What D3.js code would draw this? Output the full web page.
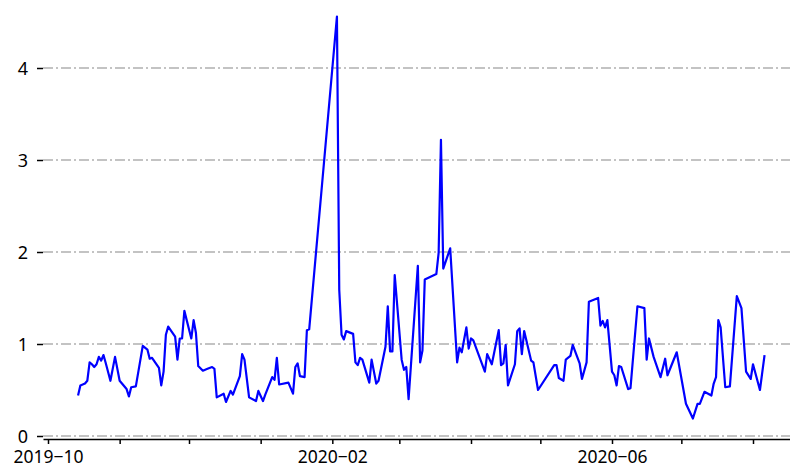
<!DOCTYPE html>
<html>
<head>
<meta charset="utf-8">
<script src="https://cdn.jsdelivr.net/npm/d3@7"></script>
<style>
	body { margin: 0; background: #fff; }
	text { font-family: "Noto Sans", sans-serif; }
</style>
</head>
<body>
<div id="vis"></div>
<script>
const dates = [
	"2019-10-14", "2019-10-15", "2019-10-17", "2019-10-18", "2019-10-19", "2019-10-20", "2019-10-21", "2019-10-22",
	"2019-10-23", "2019-10-24", "2019-10-25", "2019-10-26", "2019-10-28", "2019-10-30", "2019-11-01", "2019-11-03",
	"2019-11-04", "2019-11-05", "2019-11-06", "2019-11-08", "2019-11-11", "2019-11-13", "2019-11-14", "2019-11-15",
	"2019-11-18", "2019-11-19", "2019-11-20", "2019-11-21", "2019-11-22", "2019-11-25", "2019-11-26", "2019-11-27",
	"2019-11-28", "2019-11-29", "2019-12-02", "2019-12-03", "2019-12-04", "2019-12-05", "2019-12-07", "2019-12-09",
	"2019-12-11", "2019-12-12", "2019-12-13", "2019-12-16", "2019-12-17", "2019-12-19", "2019-12-20", "2019-12-23",
	"2019-12-24", "2019-12-25", "2019-12-27", "2019-12-30", "2019-12-31", "2020-01-02", "2020-01-03", "2020-01-06",
	"2020-01-07", "2020-01-08", "2020-01-09", "2020-01-13", "2020-01-15", "2020-01-16", "2020-01-17", "2020-01-18",
	"2020-01-20", "2020-01-21", "2020-01-22", "2020-02-03", "2020-02-04", "2020-02-05", "2020-02-06", "2020-02-07",
	"2020-02-10", "2020-02-11", "2020-02-12", "2020-02-13", "2020-02-14", "2020-02-17", "2020-02-18", "2020-02-20",
	"2020-02-21", "2020-02-24", "2020-02-25", "2020-02-26", "2020-02-27", "2020-02-28", "2020-03-02", "2020-03-03",
	"2020-03-04", "2020-03-05", "2020-03-09", "2020-03-10", "2020-03-11", "2020-03-12", "2020-03-17", "2020-03-18",
	"2020-03-19", "2020-03-20", "2020-03-23", "2020-03-26", "2020-03-27", "2020-03-28", "2020-03-30", "2020-03-31",
	"2020-04-01", "2020-04-02", "2020-04-07", "2020-04-08", "2020-04-10", "2020-04-13", "2020-04-14", "2020-04-15",
	"2020-04-16", "2020-04-17", "2020-04-20", "2020-04-21", "2020-04-22", "2020-04-23", "2020-04-24", "2020-04-27",
	"2020-04-28", "2020-04-30", "2020-05-07", "2020-05-08", "2020-05-09", "2020-05-11", "2020-05-12", "2020-05-14",
	"2020-05-15", "2020-05-18", "2020-05-19", "2020-05-21", "2020-05-22", "2020-05-26", "2020-05-27", "2020-05-28",
	"2020-05-29", "2020-05-30", "2020-06-01", "2020-06-02", "2020-06-03", "2020-06-04", "2020-06-05", "2020-06-08",
	"2020-06-09", "2020-06-12", "2020-06-15", "2020-06-16", "2020-06-17", "2020-06-19", "2020-06-22", "2020-06-24",
	"2020-06-25", "2020-06-29", "2020-07-03", "2020-07-06", "2020-07-08", "2020-07-09", "2020-07-11", "2020-07-14",
	"2020-07-15", "2020-07-16", "2020-07-17", "2020-07-18", "2020-07-20", "2020-07-22", "2020-07-25", "2020-07-27",
	"2020-07-29", "2020-07-31", "2020-08-01", "2020-08-04", "2020-08-06"
];

const values = [
	0.44, 0.55, 0.57, 0.60, 0.80, 0.78, 0.75, 0.78,
	0.86, 0.82, 0.88, 0.79, 0.60, 0.86, 0.60, 0.54,
	0.51, 0.43, 0.53, 0.54, 0.98, 0.94, 0.84, 0.85,
	0.74, 0.55, 0.70, 1.10, 1.19, 1.08, 0.83, 1.06,
	1.06, 1.36, 1.06, 1.26, 1.12, 0.76, 0.71, 0.73,
	0.75, 0.73, 0.42, 0.46, 0.37, 0.49, 0.45, 0.65,
	0.89, 0.83, 0.42, 0.38, 0.49, 0.38, 0.45, 0.64,
	0.61, 0.85, 0.56, 0.58, 0.46, 0.75, 0.79, 0.65,
	0.64, 1.15, 1.16, 4.56, 1.59, 1.10, 1.05, 1.14,
	1.11, 0.80, 0.77, 0.85, 0.83, 0.58, 0.83, 0.57,
	0.60, 0.97, 1.41, 0.92, 0.92, 1.75, 0.83, 0.72,
	0.75, 0.40, 1.85, 0.80, 0.93, 1.70, 1.76, 1.99,
	3.22, 1.82, 2.04, 0.80, 0.96, 0.91, 1.18, 0.95,
	1.06, 1.04, 0.70, 0.89, 0.78, 1.15, 0.77, 0.79,
	0.99, 0.55, 0.78, 1.14, 1.17, 0.89, 1.14, 0.82,
	0.80, 0.50, 0.77, 0.77, 0.63, 0.60, 0.83, 0.87,
	0.99, 0.79, 0.62, 0.80, 1.46, 1.50, 1.20, 1.25,
	1.18, 1.26, 0.70, 0.66, 0.55, 0.76, 0.75, 0.51,
	0.52, 1.41, 1.39, 0.83, 1.06, 0.86, 0.64, 0.84,
	0.66, 0.91, 0.35, 0.19, 0.35, 0.35, 0.48, 0.44,
	0.57, 0.64, 1.26, 1.18, 0.53, 0.54, 1.52, 1.39,
	0.70, 0.62, 0.78, 0.50, 0.88
];

const yTicks = [0, 1, 2, 3, 4];
const labelledMonths = ["2019-10", "2020-02", "2020-06"];

const W = 790;
const H = 470;
const parse = d3.timeParse("%Y-%m-%d");
const fmt = d3.timeFormat("%Y-%m");

const svg = d3.select("#vis").append("svg")
	.attr("width", W)
	.attr("height", H);

// month ticks sit at 48 (Oct 1) .. 753 (Aug 1); the axis runs 43..790
const base = d3.scaleTime()
	.domain([parse("2019-10-01"), parse("2020-08-01")])
	.range([48, 753]);
const x = d3.scaleTime()
	.domain([base.invert(43), base.invert(790)])
	.range([43, 790]);

const y = d3.scaleLinear()
	.domain([0, 4])
	.range([436, 68]);

// grid
svg.append("g")
	.selectAll("line")
	.data(yTicks)
	.join("line")
	.attr("x1", 43)
	.attr("x2", W)
	.attr("y1", d => y(d))
	.attr("y2", d => y(d))
	.attr("stroke", "#b0b0b0")
	.attr("stroke-width", 1.5)
	.attr("stroke-dasharray", "10,3,2,3");

// y axis (ticks only, no spine)
const yAxis = svg.append("g")
	.attr("transform", "translate(43,0)")
	.call(d3.axisLeft(y).tickValues(yTicks).tickSize(6).tickPadding(9).tickFormat(d3.format("d")));
yAxis.select(".domain").remove();
yAxis.selectAll(".tick line").attr("stroke", "#000").attr("stroke-width", 1.5);
yAxis.selectAll(".tick text")
	.attr("fill", "#000")
	.style("font-size", "18px")
	.attr("dy", "0.34em");

// x axis
const xAxis = svg.append("g")
	.attr("transform", "translate(0,439)")
	.call(d3.axisBottom(x)
		.ticks(d3.timeMonth.every(1))
		.tickSize(5)
		.tickSizeOuter(0)
		.tickPadding(7)
		.tickFormat(d => labelledMonths.includes(fmt(d)) ? fmt(d).replace("-", "\u2212") : ""));
xAxis.select(".domain").attr("stroke", "#000").attr("stroke-width", 1.5);
xAxis.selectAll(".tick line").attr("stroke", "#000").attr("stroke-width", 1.5);
xAxis.selectAll(".tick text")
	.attr("fill", "#000")
	.style("font-size", "17.5px");

// series
const points = dates.map((d, i) => ({ date: parse(d), value: values[i] }));
svg.append("path")
	.datum(points)
	.attr("fill", "none")
	.attr("stroke", "#0000ff")
	.attr("stroke-width", 2.2)
	.attr("stroke-linejoin", "round")
	.attr("d", d3.line().x(d => x(d.date)).y(d => y(d.value)));
</script>
</body>
</html>
